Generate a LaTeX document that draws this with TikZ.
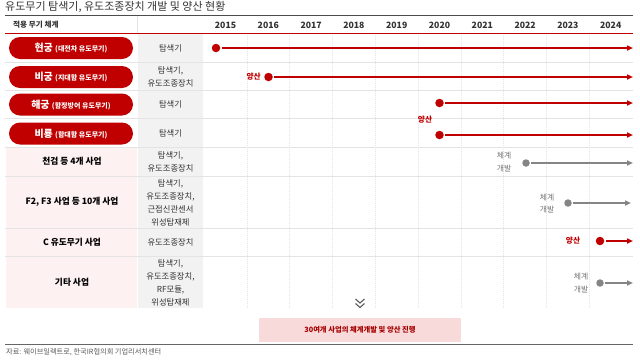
\documentclass[tikz,border=0pt]{standalone}
\usepackage{fontspec}
\setmainfont{Noto Sans CJK KR}
\usetikzlibrary{arrows.meta,calc}
\definecolor{pillred}{HTML}{C00000}
\definecolor{arrred}{HTML}{C00000}
\definecolor{arrgray}{HTML}{858585}
\definecolor{colgray}{HTML}{F2F2F2}
\definecolor{cellpink}{HTML}{FDF1F1}
\definecolor{boxpink}{HTML}{F9DADA}
\definecolor{txt}{HTML}{333333}
\definecolor{gridc}{HTML}{E4E4E4}
\definecolor{boxtxt}{HTML}{A50000}
\tikzset{
  pill/.style={fill=pillred, rounded corners=11pt, minimum width=124pt, minimum height=22pt, inner sep=0pt, text=white, font=\bfseries\fontsize{10}{11}\selectfont},
  coltext/.style={align=center, text=txt, font=\fontsize{8.3}{13}\selectfont, inner sep=0pt},
  labtext/.style={align=center, text=black, font=\bfseries\fontsize{8.7}{10}\selectfont, inner sep=0pt},
  yeartext/.style={text=txt, font=\bfseries\fontsize{8.7}{10}\selectfont, inner sep=0pt},
  reddot/.style={circle, fill=arrred, minimum size=8.5pt, inner sep=0pt},
  graydot/.style={circle, fill=arrgray, minimum size=7.5pt, inner sep=0pt},
  redarrow/.style={draw=arrred, line width=1.8pt, shorten <=1.5pt, -{Triangle[length=6pt,width=5pt]}},
  grayarrow/.style={draw=arrgray, line width=1.5pt, shorten <=1.5pt, -{Triangle[length=6pt,width=5pt]}},
  prodlab/.style={text=arrred, font=\bfseries\fontsize{7.7}{8}\selectfont, inner sep=0pt},
  devlab/.style={text=black!55, align=center, font=\fontsize{7.8}{12.5}\selectfont, inner sep=0pt},
  gridline/.style={draw=gridc, line width=0.5pt, dash pattern=on 1pt off 1pt},
  rowline/.style={draw=gridc, line width=0.7pt},
  chev/.style={draw=black!65, line width=1.1pt}
}
\begin{document}
\begin{tikzpicture}[x=1pt,y=-1pt]
\useasboundingbox (0,0) rectangle (640,360);
% backgrounds
\fill[colgray] (138,33) rectangle (203,308);
\fill[cellpink] (6,147) rectangle (137,308);
% vertical grid
\foreach \x in {247,289.5,332,375,418,461,503.5,546,589}
  \draw[gridline] (\x,33) -- (\x,308);
% row separators
\foreach \y in {62,90,118.5,147,176,228,256}
  \draw[rowline] (5,\y) -- (633,\y);
% header divider
\draw[draw=gridc, line width=0.7pt] (137,16) -- (137,33);
% title
\node[anchor=west, text=txt, font=\fontsize{11}{12}\selectfont, inner sep=0pt] (title) at (5,6.5) {유도무기 탐색기, 유도조종장치 개발 및 양산 현황};
% top & header lines
\draw[draw=black!70, line width=1pt] (5,15.5) -- (633,15.5);
\draw[draw=arrred, line width=1pt] (5,33) -- (633,33);
\node[anchor=west, text=txt, font=\bfseries\fontsize{7.6}{8}\selectfont, inner sep=0pt] (hdr) at (13,25) {적용 무기 체계};
\foreach \yr [count=\i from 0] in {2015,2016,2017,2018,2019,2020,2021,2022,2023,2024}
  \node[yeartext] (y\yr) at (225.5+42.8*\i,25) {\yr};
% pills
\node[pill] (p1) at (71,48) {현궁 {\fontsize{7}{7}\selectfont(대전차 유도무기)}};
\node[pill] (p2) at (71,77) {비궁 {\fontsize{7}{7}\selectfont(지대함 유도무기)}};
\node[pill] (p3) at (71,104.5) {해궁 {\fontsize{7}{7}\selectfont(함정방어 유도무기)}};
\node[pill] (p4) at (71,133.5) {비룡 {\fontsize{7}{7}\selectfont(함대함 유도무기)}};
% labels rows 5-8
\node[labtext] (l5) at (72,161.5) {천검 등 4개 사업};
\node[labtext] (l6) at (72,202) {F2, F3 사업 등 10개 사업};
\node[labtext] (l7) at (72,242) {C 유도무기 사업};
\node[labtext] (l8) at (72,282) {기타 사업};
% component column
\node[coltext] (c1) at (170.5,48) {탐색기};
\node[coltext] (c2) at (170.5,76.5) {탐색기,\\유도조종장치};
\node[coltext] (c3) at (170.5,104.5) {탐색기};
\node[coltext] (c4) at (170.5,133) {탐색기};
\node[coltext] (c5) at (170.5,161.5) {탐색기,\\유도조종장치};
\node[coltext] (c6) at (170.5,202.5) {탐색기,\\유도조종장치,\\근접신관센서\\위성탑재체};
\node[coltext] (c7) at (170.5,242) {유도조종장치};
\node[coltext] (c8) at (170.5,282.5) {탐색기,\\유도조종장치,\\RF모듈,\\위성탑재체};
% timeline arrows
\node[reddot] (d1) at (216,48) {};
\coordinate (e1) at (633,48);
\draw[redarrow] (d1) -- (e1);
\node[reddot] (d2) at (268.5,77) {};
\coordinate (e2) at (633,77);
\draw[redarrow] (d2) -- (e2);
\node[prodlab, anchor=east] (q2) at (261,77) {양산};
\node[reddot] (d3) at (439.5,103) {};
\coordinate (e3) at (633,103);
\draw[redarrow] (d3) -- (e3);
\node[reddot] (d4) at (439.5,135) {};
\coordinate (e4) at (633,135);
\draw[redarrow] (d4) -- (e4);
\node[prodlab] (q4) at (425,120) {양산};
\node[graydot] (d5) at (526,163) {};
\coordinate (e5) at (633,163);
\draw[grayarrow] (d5) -- (e5);
\node[devlab] (v5) at (504,162) {체계\\개발};
\node[graydot] (d6) at (568,203) {};
\coordinate (e6) at (631,203);
\draw[grayarrow] (d6) -- (e6);
\node[devlab] (v6) at (547,203.5) {체계\\개발};
\node[reddot] (d7) at (600,241) {};
\coordinate (e7) at (633,241);
\draw[redarrow] (d7) -- (e7);
\node[prodlab] (q7) at (573,241) {양산};
\node[graydot] (d8) at (600,283) {};
\coordinate (e8) at (633,283);
\draw[grayarrow] (d8) -- (e8);
\node[devlab] (v8) at (581,283) {체계\\개발};
% chevrons
\coordinate (ch) at (360,303);
\draw[chev] ($(ch)+(-4.5,-4)$) -- (ch) -- ($(ch)+(4.5,-4)$);
\draw[chev] ($(ch)+(-4.5,0.5)$) -- ($(ch)+(0,4.5)$) -- ($(ch)+(4.5,0.5)$);
% summary box
\node[fill=boxpink, minimum width=202pt, minimum height=24pt, inner sep=0pt, text=boxtxt, font=\bfseries\fontsize{7.3}{8}\selectfont] (box) at (360,330) {30여개 사업의 체계개발 및 양산 진행};
% bottom line and source
\draw[draw=black!60, line width=1pt] (5,344) -- (633,344);
\node[anchor=west, text=black!65, font=\fontsize{7.2}{8}\selectfont, inner sep=0pt] (src) at (6,352) {자료: 웨이브일렉트로, 한국IR협의회 기업리서치센터};
\end{tikzpicture}
\end{document}
